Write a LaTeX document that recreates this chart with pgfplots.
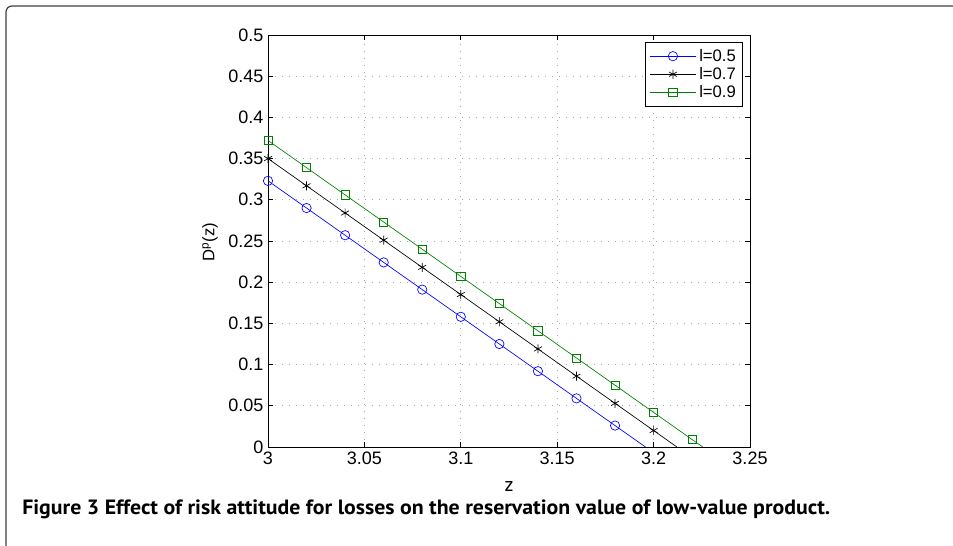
\documentclass[border=0pt]{standalone}
\usepackage{fontspec}
\setmainfont{Liberation Sans}
\newfontfamily\capfont{PT Sans}
\usepackage{graphicx}
\usepackage{pgfplots}
\pgfplotsset{compat=1.18}
\definecolor{mblue}{RGB}{0,0,255}
\definecolor{mgreen}{RGB}{0,128,0}
\begin{document}
\begin{tikzpicture}
\useasboundingbox (0,0) rectangle (714.75pt,409.5pt);
\draw[line width=0.9pt, black!75, rounded corners=4.5pt] (4.5pt,0pt) -- (4.5pt,405pt) -- (714.75pt,405pt);
\begin{axis}[
  at={(201pt,74.25pt)}, anchor=south west,
  scale only axis, width=361.5pt, height=309pt,
  xmin=3, xmax=3.25, ymin=0, ymax=0.5,
  xtick={3,3.05,3.1,3.15,3.2,3.25},
  ytick={0,0.05,0.1,0.15,0.2,0.25,0.3,0.35,0.4,0.45,0.5},
  xticklabels={3,3.05,3.1,3.15,3.2,3.25},
  yticklabels={0,0.05,0.1,0.15,0.2,0.25,0.3,0.35,0.4,0.45,0.5},
  ticklabel style={font=\fontsize{13.5}{15}\selectfont},
  tick align=inside, major tick length=3.75pt,
  tick style={line width=0.7pt, black},
  axis line style={line width=0.7pt},
  grid=major,
  major grid style={gray!70, line width=0.55pt, dash pattern=on 0.7pt off 4.5pt},
  xlabel={z},
  xlabel style={font=\capfont\fontsize{15}{17}\selectfont, at={(axis description cs:0.5,-0.097)}, anchor=center},
  ylabel={D\textsuperscript{p}(z)},
  ylabel style={font=\fontsize{12.5}{14}\selectfont, at={(axis description cs:-0.12,0.4976)}, anchor=center},
  legend style={at={(0.9855,0.983)}, anchor=north east, draw=black, line width=0.7pt,
    font=\fontsize{12.5}{14}\selectfont, cells={anchor=west}, row sep=-1pt,
    inner xsep=3pt, inner ysep=3pt},
  legend image code/.code={\draw[#1, mark indices={2}] plot coordinates {(0pt,0pt) (17.5pt,0pt) (35pt,0pt)};},
]
\addplot[mblue, line width=0.5pt, mark=o, mark size=3.5pt, mark indices={1,2,3,4,5,6,7,8,9,10}] coordinates {
 (3.00,0.323) (3.02,0.290) (3.04,0.257) (3.06,0.224) (3.08,0.191)
 (3.10,0.158) (3.12,0.125) (3.14,0.092) (3.16,0.059) (3.18,0.026) (3.1958,0)};
\addlegendentry{l=0.5}
\addplot[black, line width=0.5pt, mark=asterisk, mark size=3.4pt, mark indices={1,2,3,4,5,6,7,8,9,10,11}] coordinates {
 (3.00,0.350) (3.02,0.317) (3.04,0.284) (3.06,0.251) (3.08,0.218)
 (3.10,0.185) (3.12,0.152) (3.14,0.119) (3.16,0.086) (3.18,0.053) (3.20,0.020) (3.2121,0)};
\addlegendentry{l=0.7}
\addplot[mgreen, line width=0.5pt, mark=square, mark size=3.1pt, mark indices={1,2,3,4,5,6,7,8,9,10,11,12}] coordinates {
 (3.00,0.372) (3.02,0.339) (3.04,0.306) (3.06,0.273) (3.08,0.240)
 (3.10,0.207) (3.12,0.174) (3.14,0.141) (3.16,0.108) (3.18,0.075) (3.20,0.042) (3.22,0.009) (3.2255,0)};
\addlegendentry{l=0.9}
\end{axis}
\node[anchor=base west, inner sep=0pt] at (16.5pt,23.5pt) {\resizebox{606pt}{\height}{\capfont\bfseries\fontsize{15.5}{17}\selectfont Figure 3 Effect of risk attitude for losses on the reservation value of low-value product.}};
\end{tikzpicture}
\end{document}
